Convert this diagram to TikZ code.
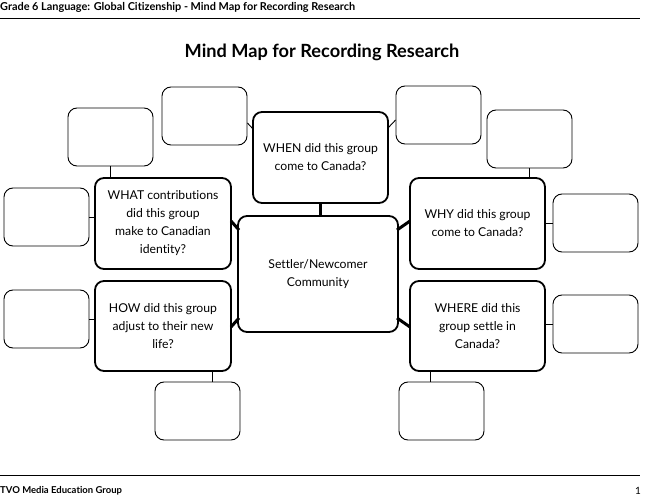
\documentclass[tikz,border=0pt]{standalone}
\usepackage{fontspec}
\setmainfont{Lato}[Ligatures={NoCommon}]
\begin{document}
\begin{tikzpicture}[x=1pt,y=-1pt,
  small/.style={draw=black,line width=0.9pt,rounded corners=9pt},
  mid/.style={draw=black,line width=1.8pt,rounded corners=9pt,align=center,font=\fontsize{12.2}{18}\selectfont},
  thin/.style={line width=0.9pt},
  thick/.style={line width=3pt}]
\useasboundingbox (0,0) rectangle (651,500);
\node[anchor=west,inner xsep=0pt,font=\fontsize{10.9}{12}\selectfont\bfseries] (hdr) at (0,7) {Grade 6 Language: Global Citizenship - Mind Map for Recording Research};
\draw[thin] (0,18) -- (640,18);
\node[font=\fontsize{18.2}{20}\selectfont\bfseries] (title) at (322,52) {Mind Map for Recording Research};
\draw[thin] (0,475) -- (640,475);
\node[anchor=west,inner xsep=0pt,font=\fontsize{9.5}{10}\selectfont\bfseries] (ftr) at (0,491) {TVO Media Education Group};
\node[font=\fontsize{10}{10}\selectfont] (pg) at (638,491) {1};
% central and middle boxes
\node[mid,minimum width=160pt,minimum height=116pt] (c) at (318,274) {Settler/Newcomer\\Community};
\node[mid,minimum width=135pt,minimum height=91pt] (when) at (320.5,157.5) {WHEN did this group\\come to Canada?};
\node[mid,minimum width=136pt,minimum height=91pt] (what) at (163,223.5) {WHAT contributions\\did this group\\make to Canadian\\identity?};
\node[mid,minimum width=135pt,minimum height=91pt] (why) at (477.5,223.5) {WHY did this group\\come to Canada?};
\node[mid,minimum width=136pt,minimum height=90pt] (how) at (163,326) {HOW did this group\\adjust to their new\\life?};
\node[mid,minimum width=135pt,minimum height=90pt] (where) at (477.5,326) {WHERE did this\\group settle in\\Canada?};
% small boxes
\foreach \n/\x/\y in {s1/204.5/116, s2/110.5/137, s3/46.5/217, s4/46.5/319, s5/197.5/411, s6/438.5/115, s7/529.5/139, s8/595.5/223, s9/595.5/324, s10/441.5/411}
  \node[small,minimum width=85pt,minimum height=58pt] (\n) at (\x,\y) {};
% thin connectors
\draw[thin] (s1.east |- 0,123) -- (253,129);
\draw[thin] (s6.west |- 0,120) -- (388,128);
\draw[thin] (s2.south) -- (what.north -| s2.south);
\draw[thin] (s3.east) -- (what.west |- s3.east);
\draw[thin] (s4.east) -- (how.west |- s4.east);
\draw[thin] (s5.north -| 212,0) -- (how.south -| 212,0);
\draw[thin] (s7.south) -- (why.north -| s7.south);
\draw[thin] (s8.west) -- (why.east |- s8.west);
\draw[thin] (s9.west) -- (where.east |- s9.west);
\draw[thin] (s10.north -| 430,0) -- (where.south -| 430,0);
% thick connectors
\draw[thick] (when.south) -- (c.north -| when.south);
\draw[thick] (231,221) -- (239,230);
\draw[thick] (410,221) -- (397,230);
\draw[thick] (231,327) -- (239,318);
\draw[thick] (410,327) -- (397,318);
\end{tikzpicture}
\end{document}
